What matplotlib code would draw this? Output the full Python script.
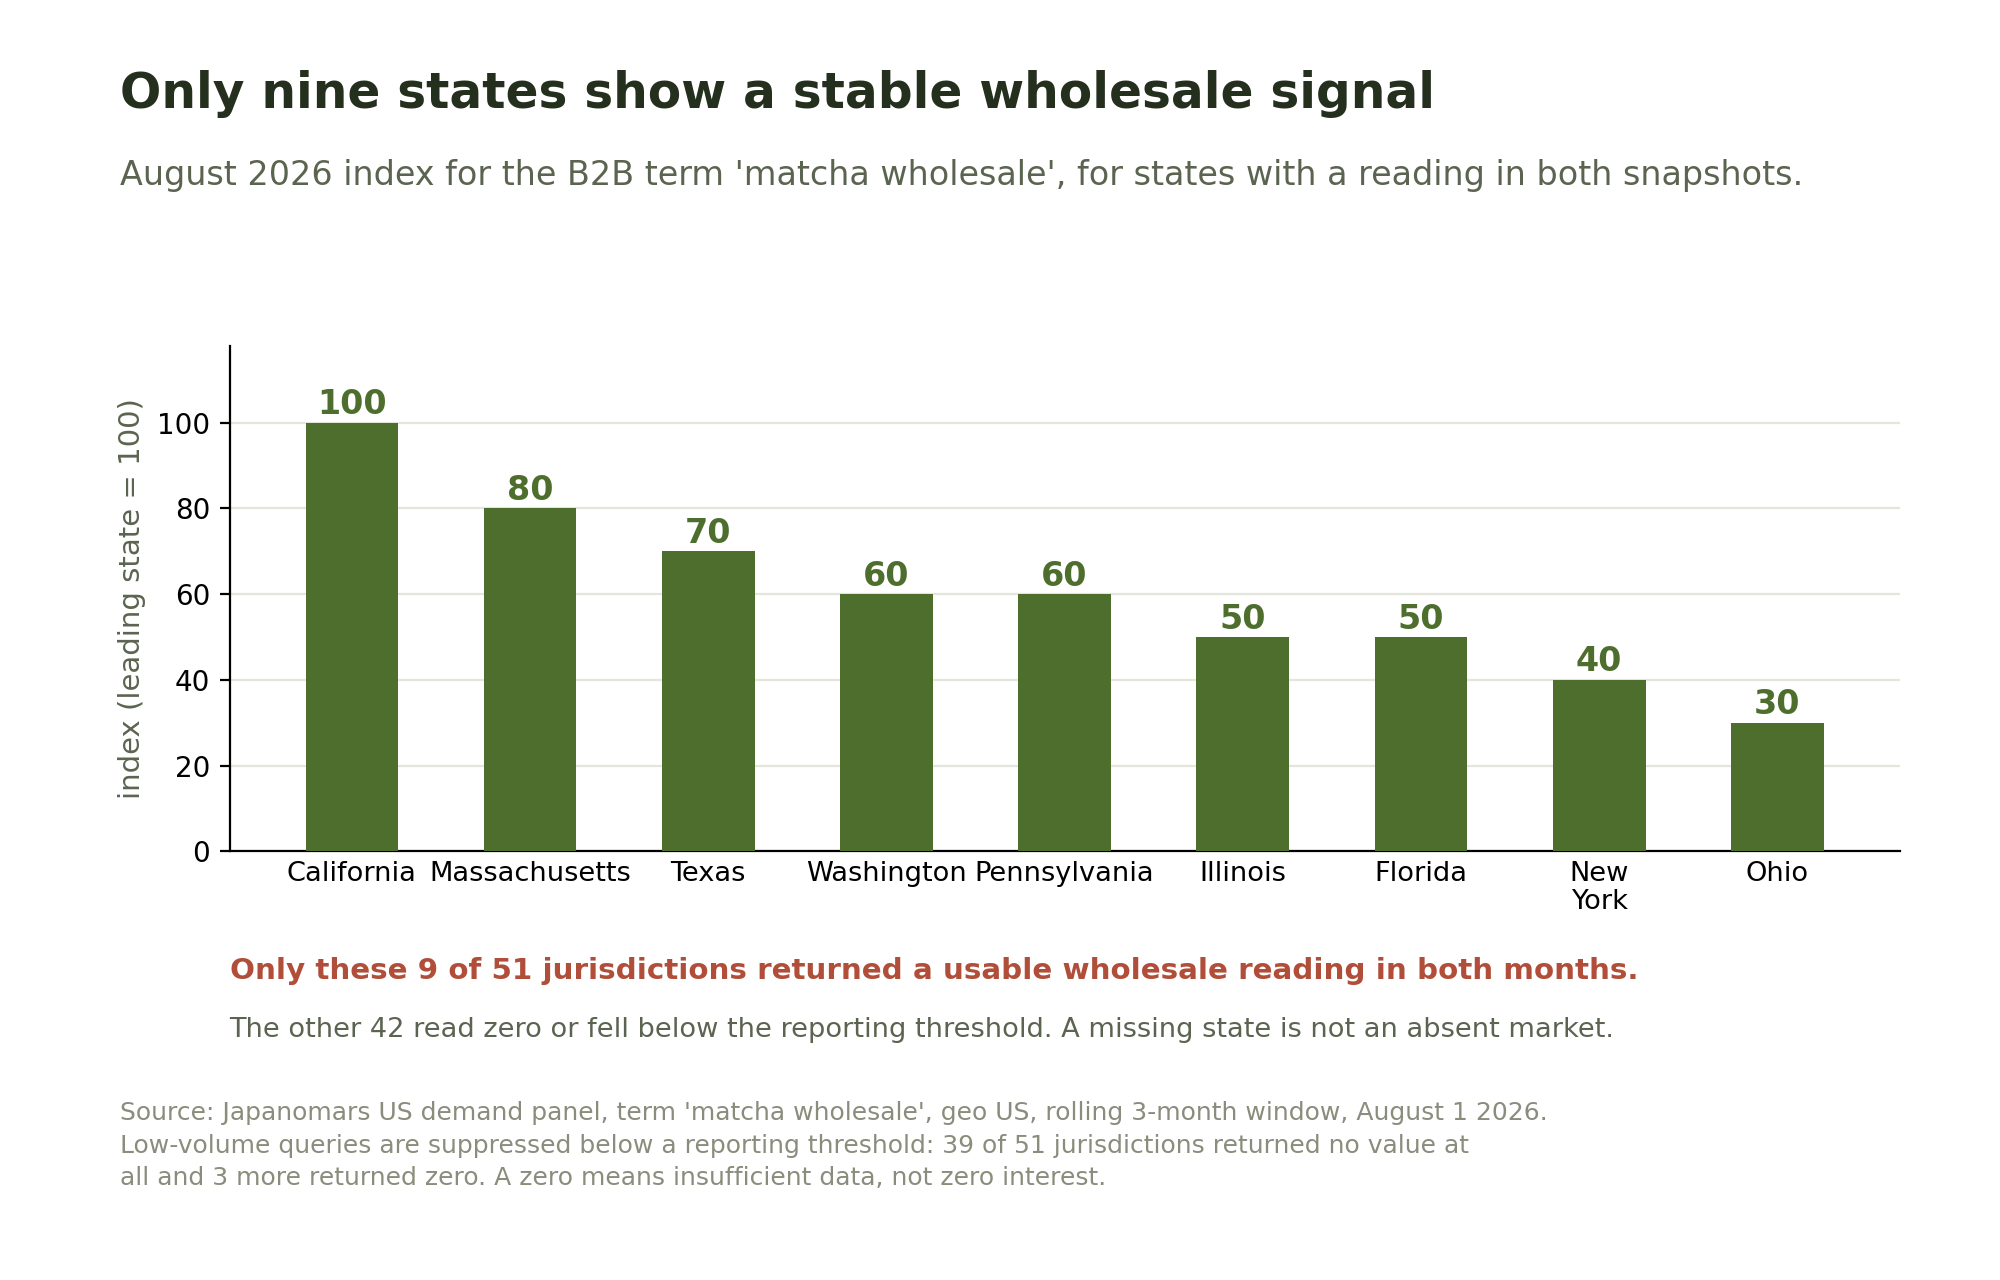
import matplotlib
matplotlib.use('Agg')
import matplotlib.pyplot as plt

states = ['California', 'Massachusetts', 'Texas', 'Washington', 'Pennsylvania',
          'Illinois', 'Florida', 'New\nYork', 'Ohio']
index_values = [100, 80, 70, 60, 60, 50, 50, 40, 30]
y_ticks = [0, 20, 40, 60, 80, 100]

title = 'Only nine states show a stable wholesale signal'
subtitle = "August 2026 index for the B2B term 'matcha wholesale', for states with a reading in both snapshots."
callout = 'Only these 9 of 51 jurisdictions returned a usable wholesale reading in both months.'
callout_note = 'The other 42 read zero or fell below the reporting threshold. A missing state is not an absent market.'
source = ("Source: Japanomars US demand panel, term 'matcha wholesale', geo US, rolling 3-month window, August 1 2026.\n"
          "Low-volume queries are suppressed below a reporting threshold: 39 of 51 jurisdictions returned no value at\n"
          "all and 3 more returned zero. A zero means insufficient data, not zero interest.")

bar_color = '#4e6e2e'
dark = '#252f1e'
muted = '#5b6450'
red = '#b14e3a'
grey = '#8a8c7c'

fig = plt.figure(figsize=(10, 6.4), dpi=200)
ax = fig.add_axes([0.1148, 0.335, 0.835, 0.395])

x = range(len(states))
ax.bar(x, index_values, width=0.52, color=bar_color, zorder=3)
for i, v in zip(x, index_values):
    ax.annotate(str(v), (i, v), xytext=(0, 3), textcoords='offset points',
                ha='center', va='baseline', fontsize=12, fontweight='bold', color=bar_color)

ax.set_xticks(list(x))
ax.set_xticklabels(states, fontsize=9.8, linespacing=1.1)
ax.tick_params(axis='x', length=0, pad=3.5)
ax.set_yticks(y_ticks)
ax.tick_params(axis='y', labelsize=10)
ax.set_ylim(0, 118)
ax.set_ylabel('index (leading state = 100)', fontsize=10.5, color=muted)
ax.grid(axis='y', color='#e3e6da', linewidth=0.8, zorder=0)
ax.set_axisbelow(True)
for side in ['top', 'right']:
    ax.spines[side].set_visible(False)

fig.text(0.06, 0.9156, title, fontsize=17.5, fontweight='bold', color=dark, va='baseline')
fig.text(0.06, 0.8555, subtitle, fontsize=12, color=muted, va='baseline')
fig.text(0.1148, 0.235, callout, fontsize=10.6, fontweight='bold', color=red, va='baseline')
fig.text(0.1148, 0.19, callout_note, fontsize=9.8, color=muted, va='baseline')
fig.text(0.06, 0.1398, source, fontsize=9, color=grey, va='top', linespacing=1.45)

fig.savefig('out.png', dpi=200)
